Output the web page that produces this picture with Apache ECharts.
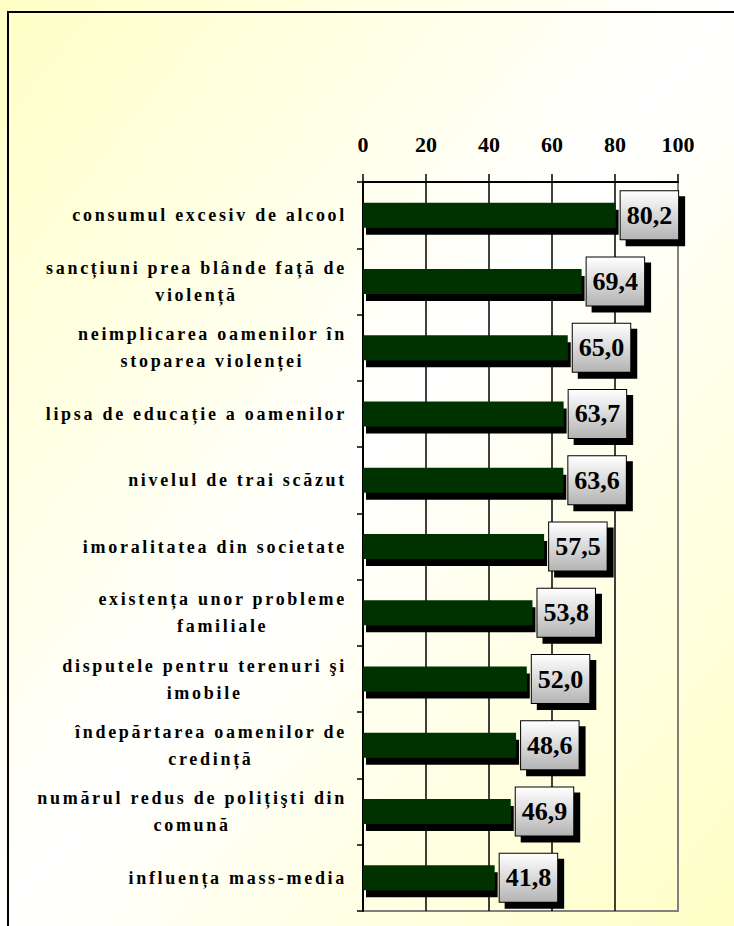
<!DOCTYPE html>
<html>
<head>
<meta charset="utf-8">
<script src="https://cdn.jsdelivr.net/npm/echarts@6/dist/echarts.min.js"></script>
<style>
html, body { margin: 0; padding: 0; background: #fff; }
#chart { width: 734px; height: 926px; }
/* category labels in the original are widely spaced */
#chart text[style*="18px"] { letter-spacing: 2.7px; }
</style>
</head>
<body>
<div id="chart"></div>
<script>
var categories = [
    'consumul excesiv de alcool',
    'sancțiuni prea blânde față de\nviolență',
    'neimplicarea oamenilor în\nstoparea violenței',
    'lipsa de educație a oamenilor',
    'nivelul de trai scăzut',
    'imoralitatea din societate',
    'existența unor probleme\nfamiliale',
    'disputele pentru terenuri şi\nimobile',
    'îndepărtarea oamenilor de\ncredință',
    'numărul redus de polițişti din\ncomună',
    'influența mass-media'
];
var values = [80.2, 69.4, 65.0, 63.7, 63.6, 57.5, 53.8, 52.0, 48.6, 46.9, 41.8];
var axisTicks = [0, 20, 40, 60, 80, 100];

var serif = '"Liberation Serif", "Times New Roman", serif';

// measure the spaced label font with its letter spacing so the layout matches the svg text
var measureCtx = document.createElement('canvas').getContext('2d');
echarts.setPlatformAPI({
    measureText: function (text, font) {
        measureCtx.font = font;
        if ('letterSpacing' in measureCtx) {
            measureCtx.letterSpacing = font.indexOf('18px') >= 0 ? '2.7px' : '0px';
        }
        return measureCtx.measureText(text);
    }
});

var chart = echarts.init(document.getElementById('chart'), null, { renderer: 'svg' });

var option = {
    backgroundColor: new echarts.graphic.LinearGradient(0, 0, 1, 1, [
        { offset: 0, color: '#ffffc6' },
        { offset: 0.5, color: '#ffffff' },
        { offset: 1, color: '#ffffc6' }
    ]),
    animation: false,
    graphic: [{
        type: 'polyline',
        shape: { points: [[8, 926], [8, 12], [734, 12]] },
        style: { stroke: '#000', lineWidth: 2, fill: null }
    }],
    grid: {
        left: 363,
        right: 56,
        top: 182,
        bottom: 15,
        show: true,
        borderColor: '#808080',
        borderWidth: 2,
        backgroundColor: 'transparent'
    },
    xAxis: {
        type: 'value',
        position: 'top',
        min: axisTicks[0],
        max: axisTicks[axisTicks.length - 1],
        interval: axisTicks[1] - axisTicks[0],
        axisLine: { show: true, lineStyle: { color: '#000', width: 2 } },
        axisTick: { show: true, length: 8, lineStyle: { color: '#000', width: 1.5 } },
        splitLine: { show: true, showMinLine: false, showMaxLine: false, lineStyle: { color: '#000', width: 1.5 } },
        axisLabel: {
            margin: 27,
            color: '#000',
            fontFamily: serif,
            fontWeight: 'bold',
            fontSize: 22
        }
    },
    yAxis: {
        type: 'category',
        inverse: true,
        data: categories,
        axisLine: { show: true, lineStyle: { color: '#000', width: 2 } },
        axisTick: { show: true, length: 6, lineStyle: { color: '#000', width: 1.5 } },
        axisLabel: {
            margin: 16,
            color: '#000',
            formatter: function (value) {
                return value.split('\n').map(function (line) {
                    return '{c|' + line + '}';
                }).join('\n');
            },
            rich: {
                c: {
                    align: 'center',
                    color: '#000',
                    fontFamily: serif,
                    fontWeight: 'bold',
                    fontSize: 18,
                    lineHeight: 27
                }
            }
        }
    },
    series: [{
        type: 'bar',
        data: values,
        barWidth: 25,
        itemStyle: {
            color: '#003300',
            shadowColor: '#000',
            shadowBlur: 0,
            shadowOffsetX: 3,
            shadowOffsetY: 7
        },
        label: {
            show: true,
            position: 'right',
            distance: 5,
            formatter: function (p) {
                return p.value.toFixed(1).replace('.', ',');
            },
            color: '#000',
            fontFamily: serif,
            fontWeight: 'bold',
            fontSize: 26,
            lineHeight: 28,
            padding: [10, 6],
            backgroundColor: new echarts.graphic.LinearGradient(0, 0, 0, 1, [
                { offset: 0, color: '#ffffff' },
                { offset: 1, color: '#b4b4b4' }
            ]),
            borderColor: '#000',
            borderWidth: 1,
            shadowColor: '#000',
            shadowBlur: 0,
            shadowOffsetX: 6,
            shadowOffsetY: 6
        }
    }]
};

chart.setOption(option);
</script>
</body>
</html>
